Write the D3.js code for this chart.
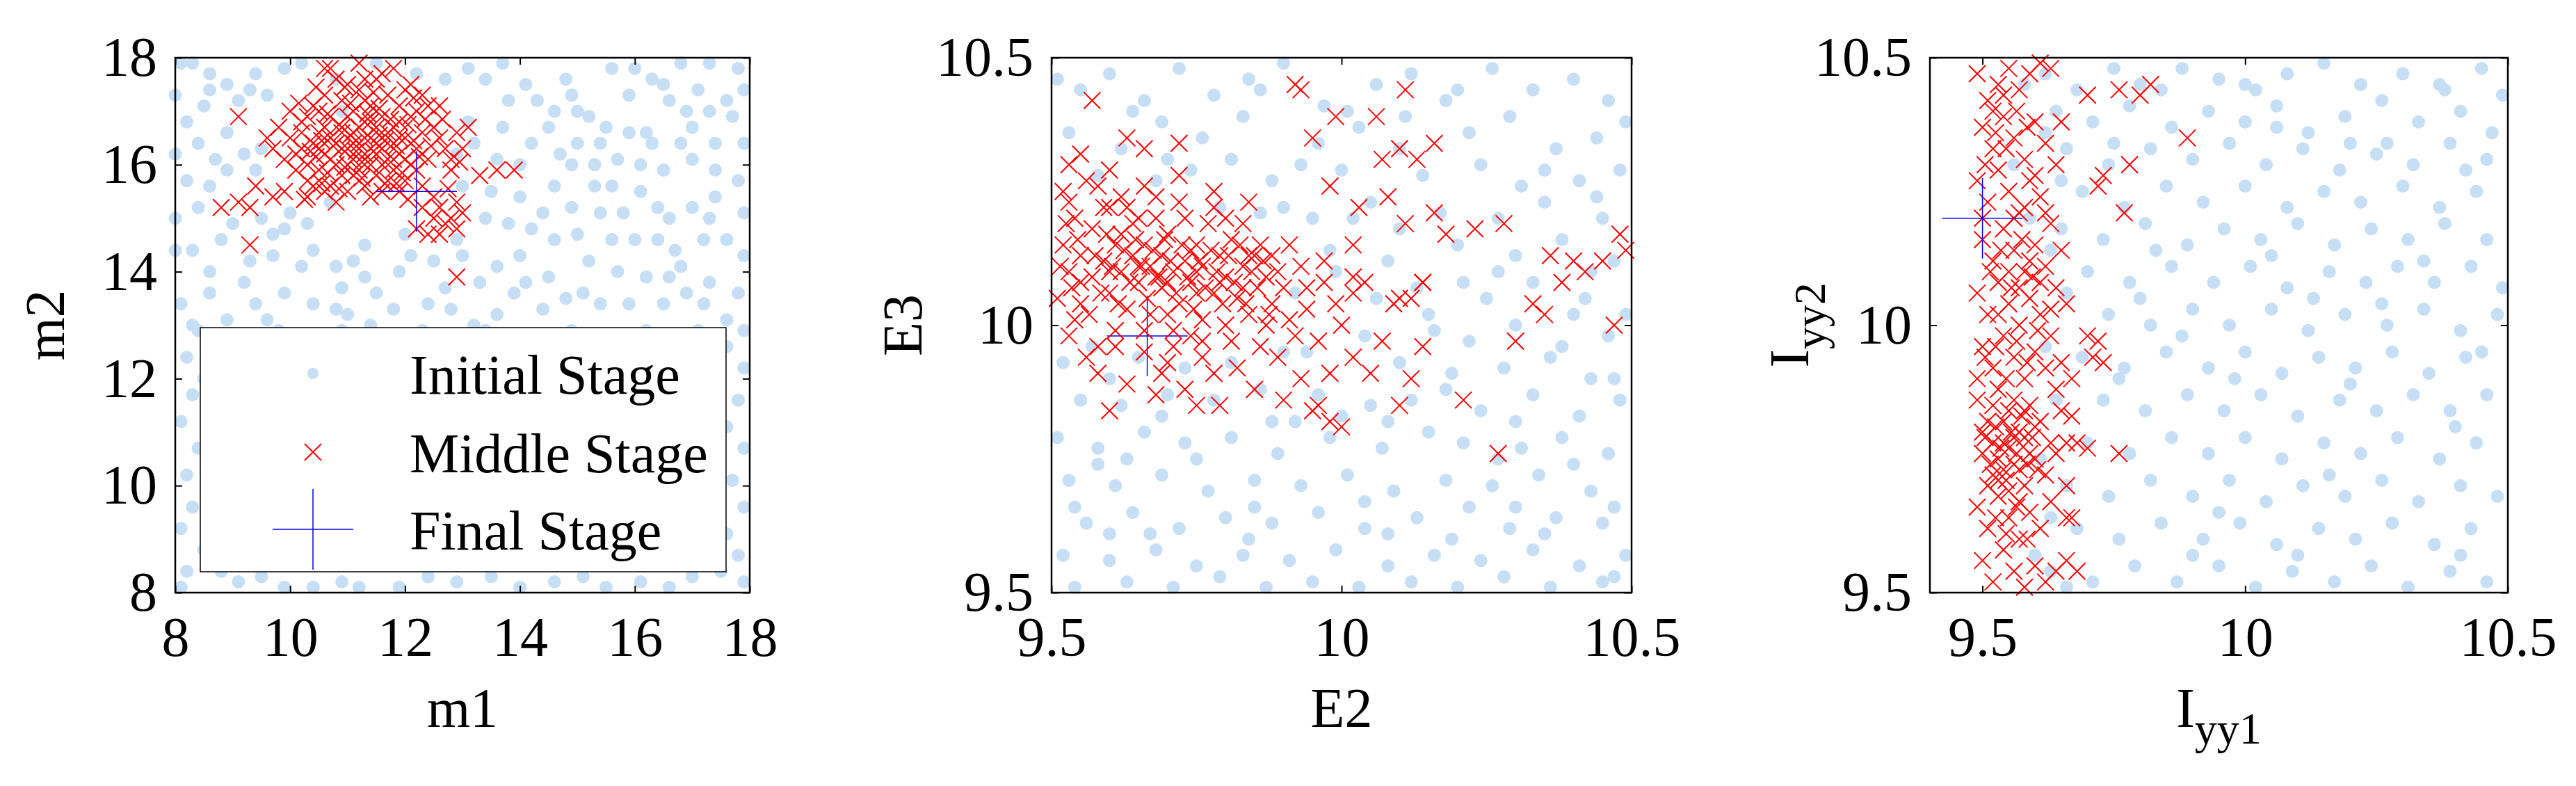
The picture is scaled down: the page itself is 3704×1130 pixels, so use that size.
<!DOCTYPE html>
<html><head><meta charset="utf-8">
<script src="https://cdn.jsdelivr.net/npm/d3@7"></script>
<style>body{margin:0;background:#fff} svg text{font-family:'Liberation Serif','Times New Roman',Tinos,'DejaVu Serif',serif !important;}</style>
</head><body><svg id="c" width="3704" height="1130"></svg>
<script>
const p1Init=[[8.1,17.9],[8.3,17.9],[8.6,17.7],[8.9,17.5],[9.3,17.4],[9.1,17.2],[8.5,17.1],[8.2,16.8],[9.6,17.3],[9.9,17.8],[10.2,17.9],[10.8,17.6],[11.5,17.9],[12.2,17.7],[12.7,17.6],[13.1,17.8],[13.4,17.6],[14.1,17.5],[14.3,17.2],[13.8,17.2],[14.6,17.0],[15.0,17.0],[15.2,16.9],[15.6,17.8],[16.0,17.8],[16.3,17.6],[16.8,17.9],[17.1,17.4],[17.3,17.9],[17.8,17.8],[17.9,17.4],[17.6,17.2],[17.3,17.0],[16.9,17.0],[16.6,17.2],[15.9,16.6],[16.2,16.6],[15.4,16.4],[15.0,16.4],[14.5,16.7],[14.2,16.4],[13.7,16.7],[13.6,16.1],[14.9,16.0],[15.3,16.0],[15.7,16.1],[16.1,16.0],[16.5,15.9],[17.0,16.1],[17.4,15.9],[17.8,15.7],[17.9,16.4],[17.7,16.9],[8.0,16.2],[8.4,16.4],[8.7,16.1],[8.9,16.6],[9.2,16.2],[9.5,16.3],[8.2,15.7],[8.6,15.6],[9.4,15.9],[8.3,14.4],[8.6,14.0],[8.8,14.6],[9.0,14.9],[9.5,15.0],[9.9,14.8],[10.3,14.9],[10.4,14.4],[10.8,14.1],[10.2,14.1],[9.7,14.3],[9.2,13.8],[8.6,13.6],[8.1,13.4],[8.9,13.1],[9.4,13.4],[9.9,13.6],[10.4,13.4],[10.8,13.3],[11.0,13.2],[11.4,13.0],[11.8,13.3],[12.4,13.4],[12.7,13.7],[11.9,14.0],[11.5,13.6],[12.1,14.3],[12.5,14.2],[13.0,14.3],[13.3,13.8],[13.6,14.1],[14.0,14.3],[14.1,13.8],[13.6,13.2],[13.2,13.0],[14.4,13.3],[14.8,13.5],[15.1,13.6],[15.4,13.4],[15.7,14.0],[16.2,13.9],[16.5,13.4],[16.9,13.6],[17.3,13.8],[17.8,13.6],[17.6,13.1],[17.2,13.4],[16.8,14.1],[16.4,14.6],[16.0,14.6],[15.6,14.6],[15.2,14.2],[14.6,14.6],[14.2,14.8],[13.8,14.9],[13.5,15.5],[14.0,15.4],[14.4,15.1],[14.9,15.2],[15.4,15.1],[15.8,15.1],[16.1,15.5],[16.6,15.0],[17.0,15.2],[17.4,15.4],[17.9,15.1],[17.6,14.6],[17.9,14.3],[17.2,14.6],[16.7,14.4],[15.6,15.6],[14.6,15.6],[13.4,15.0],[12.9,14.6],[10.7,15.3],[10.0,15.1],[8.4,15.2],[8.0,14.4],[8.4,12.9],[8.2,12.4],[8.5,12.0],[8.3,11.7],[8.1,11.2],[8.4,10.7],[8.2,10.2],[8.6,9.9],[8.3,9.6],[8.1,9.2],[8.5,8.8],[8.2,8.4],[8.1,8.1],[8.8,8.4],[9.1,8.2],[9.5,8.3],[9.9,8.1],[10.4,8.1],[10.9,8.2],[11.2,8.1],[11.9,8.1],[12.4,8.3],[12.9,8.2],[13.5,8.3],[14.0,8.1],[14.6,8.2],[15.1,8.3],[15.5,8.1],[16.1,8.2],[16.6,8.1],[17.0,8.3],[17.5,8.4],[17.9,8.2],[17.8,8.7],[17.6,9.1],[17.9,9.6],[17.7,10.1],[17.9,10.7],[17.6,11.1],[17.8,11.6],[17.9,12.2],[17.6,12.6],[17.9,12.9],[9.8,12.9],[10.9,12.9],[12.3,12.9],[13.4,12.9],[14.9,12.9],[16.2,12.9],[17.1,12.9],[8.0,17.3],[10.9,17.0],[13.1,16.8],[12.9,16.2],[14.8,17.6],[15.9,17.3],[9.3,14.2],[11.3,14.5],[12.0,14.7],[11.3,13.9],[10.9,13.7],[9.6,13.1],[8.3,13.0],[16.3,16.4],[17.0,16.7],[14.0,16.0],[15.0,14.7],[13.9,13.6],[17.4,16.4],[8.6,17.4],[9.4,17.7],[13.7,17.9],[14.9,17.3],[16.5,17.5],[15.5,16.7],[13.2,16.4],[14.7,16.2],[16.8,16.4],[8.9,15.9],[8.0,15.0],[9.7,14.7],[11.1,14.2],[12.8,13.3],[14.5,13.9],[15.9,13.4],[16.6,13.9],[13.0,15.6],[15.3,15.6],[17.3,15.0],[16.4,15.2]];
const p1Mid=[[10.0,16.5],[10.1,16.2],[10.2,16.8],[10.3,16.0],[10.3,15.7],[10.4,16.4],[10.4,17.1],[10.5,16.6],[10.5,15.9],[10.6,16.2],[10.6,17.3],[10.7,15.6],[10.7,16.9],[10.7,17.8],[10.8,16.4],[10.8,16.0],[10.8,15.3],[10.9,16.7],[10.9,17.2],[10.9,15.8],[11.0,16.3],[11.0,16.9],[11.0,15.5],[11.1,16.1],[11.1,17.0],[11.1,16.6],[11.2,15.9],[11.2,16.4],[11.2,17.4],[11.3,16.2],[11.3,16.8],[11.3,15.6],[11.4,16.5],[11.4,17.1],[11.4,16.0],[11.5,16.7],[11.5,15.8],[11.5,17.6],[11.6,16.3],[11.6,16.9],[11.6,15.5],[11.7,16.1],[11.7,17.3],[11.7,16.6],[11.8,16.4],[11.8,15.9],[11.8,17.8],[11.9,16.8],[11.9,16.2],[11.9,17.1],[12.0,16.5],[12.0,15.7],[12.0,17.4],[12.1,16.0],[12.1,16.9],[12.2,16.3],[12.2,17.0],[12.3,16.6],[12.3,15.6],[12.4,17.1],[12.4,16.1],[12.5,16.7],[12.6,17.1],[12.5,15.4],[12.7,16.3],[12.8,15.9],[12.9,16.6],[13.0,16.3],[13.1,16.7],[12.6,15.2],[12.7,14.9],[12.8,15.0],[12.9,14.8],[13.0,15.1],[12.6,14.7],[12.4,14.7],[12.2,14.8],[12.5,15.0],[12.9,15.3],[12.3,15.2],[10.1,15.9],[10.2,16.6],[10.3,16.9],[10.4,15.6],[10.5,17.0],[10.6,15.5],[10.7,16.5],[10.8,17.6],[10.9,16.3],[11.0,17.5],[11.1,15.8],[11.2,17.9],[11.3,17.2],[11.4,15.4],[11.5,16.2],[11.6,17.7],[11.7,15.7],[11.8,16.7],[11.9,15.5],[12.0,16.1],[12.1,17.5],[12.2,15.9],[11.0,16.0],[11.3,16.5],[11.6,16.0],[10.9,16.6],[11.2,16.7],[11.5,16.4],[11.8,16.1],[10.6,16.7],[10.7,16.1],[11.4,16.8],[11.1,16.4],[10.5,16.3],[11.9,16.5],[10.2,16.3],[10.3,15.4],[9.9,16.1],[9.8,16.7],[9.7,16.3],[9.6,16.5],[9.9,15.5],[9.7,15.4],[9.4,15.6],[9.1,15.3],[8.8,15.2],[9.3,15.2],[9.1,16.9],[9.3,14.5],[13.3,15.8],[13.6,15.9],[13.9,15.9],[12.9,13.9],[10.0,17.0],[10.6,17.8],[11.3,17.6],[12.3,17.3],[12.6,16.5],[12.8,16.1],[10.45,16.15],[10.55,16.45],[10.65,15.85],[10.75,16.35],[10.85,16.75],[10.95,15.95],[11.05,16.55],[11.15,16.25],[11.25,15.75],[11.35,16.95],[11.45,16.25],[11.55,16.55],[11.65,15.65],[11.75,16.85],[11.85,16.35],[11.95,15.85],[12.05,16.75],[12.15,16.45],[12.25,16.15],[12.35,16.85],[10.35,16.25],[10.65,16.95],[10.85,15.55],[11.05,17.15],[11.25,16.05],[11.45,17.35],[11.65,16.45],[11.85,15.65],[12.05,15.35],[12.45,16.35],[10.15,17.15],[10.45,17.45],[10.95,17.45],[11.55,17.05],[12.15,17.25],[12.65,16.85],[12.95,16.05],[12.75,15.55],[10.25,15.35],[10.55,15.65]];
const p2Init=[[9.51,10.46],[9.55,10.44],[9.60,10.47],[9.66,10.42],[9.72,10.48],[9.78,10.43],[9.84,10.46],[9.90,10.49],[9.97,10.41],[10.06,10.45],[10.12,10.47],[10.18,10.42],[10.26,10.48],[10.33,10.44],[10.40,10.46],[10.46,10.42],[10.49,10.38],[9.53,10.36],[9.62,10.33],[9.69,10.38],[9.76,10.35],[9.83,10.39],[9.96,10.34],[10.03,10.37],[10.10,10.33],[10.22,10.36],[10.29,10.39],[10.37,10.33],[10.44,10.35],[9.58,10.28],[9.74,10.29],[9.88,10.27],[9.93,10.30],[10.00,10.29],[10.14,10.28],[10.24,10.30],[10.31,10.26],[10.41,10.27],[10.48,10.29],[9.90,10.22],[9.95,10.20],[10.05,10.23],[10.17,10.21],[10.27,10.20],[10.35,10.23],[10.45,10.20],[9.98,10.14],[10.08,10.12],[10.20,10.15],[10.30,10.13],[10.38,10.16],[10.47,10.12],[9.92,10.06],[10.06,10.05],[10.13,10.07],[10.25,10.05],[10.33,10.08],[10.42,10.05],[10.49,10.02],[10.04,9.98],[10.16,9.99],[10.22,9.97],[10.30,10.00],[10.38,9.96],[10.46,9.98],[9.52,9.93],[9.60,9.90],[10.10,9.93],[10.19,9.91],[10.28,9.92],[10.36,9.94],[10.43,9.90],[9.55,9.86],[9.62,9.85],[9.70,9.87],[9.78,9.86],[9.86,9.88],[9.96,9.87],[10.05,9.85],[10.12,9.86],[10.24,9.84],[10.33,9.87],[10.41,9.83],[10.48,9.86],[9.51,9.79],[9.58,9.77],[9.66,9.80],[9.73,9.78],[9.81,9.79],[9.89,9.76],[9.98,9.79],[10.07,9.77],[10.15,9.80],[10.21,9.78],[10.31,9.77],[10.38,9.79],[10.46,9.76],[9.53,9.71],[9.61,9.70],[9.69,9.72],[9.77,9.69],[9.85,9.71],[9.93,9.70],[10.01,9.72],[10.09,9.69],[10.18,9.71],[10.26,9.70],[10.34,9.72],[10.43,9.69],[9.56,9.63],[9.64,9.65],[9.72,9.62],[9.80,9.64],[9.88,9.63],[9.96,9.65],[10.04,9.62],[10.13,9.64],[10.22,9.66],[10.29,9.62],[10.37,9.64],[10.45,9.63],[9.52,9.57],[9.60,9.56],[9.68,9.58],[9.75,9.55],[9.83,9.57],[9.91,9.56],[9.99,9.58],[10.08,9.55],[10.16,9.57],[10.24,9.56],[10.33,9.58],[10.41,9.55],[10.49,9.57],[9.54,9.51],[9.63,9.52],[9.71,9.51],[9.79,9.53],[9.87,9.51],[9.95,9.52],[10.03,9.51],[10.12,9.52],[10.20,9.51],[10.28,9.53],[10.36,9.51],[10.45,9.52],[9.57,9.96],[9.65,9.94],[9.73,9.92],[9.94,9.95],[9.99,10.10],[10.10,10.18],[10.01,10.40],[9.70,10.31],[9.64,10.40],[9.81,10.31],[9.86,10.21],[10.43,10.10],[10.27,10.10],[10.15,10.02],[9.90,9.95],[9.81,9.93],[9.69,9.83],[9.58,9.74],[9.92,9.82],[10.18,9.88],[10.27,9.75],[10.40,9.74],[10.04,9.67],[9.84,9.60],[9.67,9.61],[10.19,9.60],[10.35,9.61],[9.75,9.75],[10.00,9.83],[9.54,9.66],[10.47,9.66],[10.47,9.90],[10.11,10.39],[9.79,10.22],[9.68,10.27],[9.86,10.44],[10.20,10.44],[10.35,10.29],[10.44,10.24],[10.02,10.20],[10.21,10.08],[10.40,10.02],[9.88,9.82],[10.08,9.82],[10.30,9.82],[9.63,9.75],[9.85,9.66],[10.08,9.61],[10.30,9.66],[9.60,9.61],[10.47,9.53]];
const p2Mid=[[9.51,10.05],[9.52,10.15],[9.52,10.25],[9.53,10.10],[9.53,9.98],[9.54,10.20],[9.55,10.13],[9.55,10.04],[9.56,10.27],[9.57,10.09],[9.57,10.18],[9.58,9.96],[9.59,10.12],[9.59,10.22],[9.60,10.06],[9.61,10.15],[9.61,9.99],[9.62,10.10],[9.62,10.24],[9.63,10.03],[9.64,10.13],[9.64,10.19],[9.65,10.08],[9.66,9.95],[9.66,10.15],[9.67,10.11],[9.67,10.02],[9.68,10.20],[9.69,10.07],[9.69,10.13],[9.70,9.93],[9.70,10.17],[9.71,10.10],[9.72,10.04],[9.72,10.23],[9.73,10.12],[9.74,9.98],[9.74,10.08],[9.75,10.15],[9.76,10.01],[9.76,10.11],[9.77,10.19],[9.78,10.06],[9.78,9.91],[9.79,10.13],[9.80,10.09],[9.80,10.00],[9.81,10.16],[9.82,9.92],[9.82,10.05],[9.83,10.11],[9.84,10.02],[9.85,10.13],[9.86,9.96],[9.87,10.09],[9.88,10.04],[9.89,9.94],[9.90,10.07],[9.91,10.01],[9.92,9.98],[9.93,10.11],[9.94,10.03],[9.96,9.97],[9.97,10.08],[9.98,9.91],[9.99,10.04],[10.00,10.00],[10.02,10.09],[10.02,9.94],[9.55,10.32],[9.60,10.29],[9.66,10.26],[9.72,10.28],[9.78,10.25],[9.84,10.23],[9.58,9.91],[9.63,9.89],[9.68,9.87],[9.73,9.88],[9.79,9.85],[9.85,9.88],[9.90,9.86],[9.95,9.84],[9.57,10.42],[9.60,10.22],[9.70,10.02],[9.65,10.20],[9.75,10.06],[9.80,10.20],[9.71,9.96],[9.76,9.94],[9.53,10.30],[9.54,10.01],[9.62,10.17],[9.68,10.09],[9.74,10.14],[9.83,10.07],[9.86,10.15],[9.89,10.10],[9.63,10.35],[9.66,10.33],[9.72,10.34],[9.93,10.44],[9.92,10.45],[9.95,10.35],[9.99,10.39],[10.06,10.39],[10.11,10.44],[10.10,10.33],[10.07,10.31],[10.13,10.31],[10.16,10.34],[10.08,10.24],[10.11,10.19],[10.16,10.21],[10.18,10.17],[10.02,10.15],[10.03,10.22],[9.98,10.26],[10.10,10.05],[10.12,10.05],[10.14,10.08],[10.02,10.06],[10.04,10.08],[10.09,10.04],[10.14,9.96],[10.10,9.85],[10.21,9.86],[10.07,9.97],[9.98,9.82],[10.00,9.81],[10.28,10.19],[10.35,10.02],[10.38,10.08],[10.42,10.10],[10.45,10.12],[10.48,10.17],[10.49,10.14],[10.33,10.04],[10.36,10.13],[10.40,10.12],[10.47,10.00],[10.30,9.97],[10.27,9.76],[10.14,10.08],[10.23,10.18],[10.05,9.91],[10.12,9.90],[9.93,9.90],[9.96,9.85],[9.75,9.85],[9.60,9.84],[9.69,9.91],[9.515,10.11],[9.525,10.19],[9.535,10.07],[9.545,10.16],[9.565,10.02],[9.575,10.13],[9.585,10.06],[9.595,10.17],[9.605,10.11],[9.615,10.04],[9.625,10.14],[9.635,10.08],[9.645,10.16],[9.655,10.11],[9.665,10.05],[9.675,10.14],[9.685,10.09],[9.695,10.16],[9.705,10.12],[9.715,10.06],[9.725,10.15],[9.735,10.09],[9.745,10.03],[9.755,10.12],[9.765,10.07],[9.775,10.14],[9.785,10.10],[9.795,10.04],[9.805,10.13],[9.815,10.08],[9.825,10.15],[9.835,10.04],[9.845,10.10],[9.855,10.07],[9.865,10.12],[9.875,10.02],[9.53,10.23],[9.58,10.26],[9.63,10.22],[9.68,10.24],[9.73,10.20],[9.78,10.22],[9.83,10.19],[9.56,9.94],[9.61,9.96],[9.66,9.99],[9.71,9.99],[9.76,9.97],[9.81,9.97],[9.87,10.00],[9.65,10.11],[9.70,10.08],[9.75,10.10],[9.60,10.10],[9.55,10.08],[9.79,10.08],[9.84,10.13],[9.88,10.13],[9.91,10.15],[9.94,10.07],[9.97,10.12]];
const p3Init=[[9.62,10.47],[9.68,10.44],[9.75,10.48],[9.80,10.45],[9.88,10.48],[9.95,10.46],[10.02,10.44],[10.08,10.47],[10.15,10.49],[10.22,10.45],[10.30,10.47],[10.38,10.44],[10.45,10.48],[10.49,10.43],[9.64,10.40],[9.71,10.38],[9.78,10.41],[9.86,10.37],[9.93,10.40],[10.00,10.38],[10.06,10.41],[10.12,10.36],[10.19,10.39],[10.26,10.42],[10.33,10.38],[10.41,10.40],[10.47,10.36],[9.66,10.33],[9.74,10.30],[9.82,10.33],[9.90,10.31],[9.97,10.34],[10.04,10.30],[10.11,10.33],[10.18,10.29],[10.25,10.32],[10.32,10.30],[10.39,10.34],[10.46,10.31],[9.69,10.25],[9.77,10.22],[9.85,10.26],[9.92,10.23],[10.00,10.26],[10.08,10.22],[10.15,10.25],[10.22,10.23],[10.30,10.26],[10.37,10.22],[10.44,10.25],[9.65,10.18],[9.73,10.16],[9.81,10.19],[9.89,10.15],[9.96,10.18],[10.03,10.16],[10.10,10.19],[10.17,10.15],[10.24,10.18],[10.31,10.16],[10.38,10.19],[10.46,10.16],[9.70,10.10],[9.78,10.08],[9.86,10.11],[9.94,10.08],[10.01,10.11],[10.08,10.07],[10.16,10.10],[10.23,10.08],[10.29,10.11],[10.36,10.08],[10.43,10.11],[10.49,10.07],[9.74,10.02],[9.82,10.00],[9.90,10.03],[9.97,10.00],[10.05,10.03],[10.12,9.99],[10.19,10.02],[10.27,10.00],[10.34,10.03],[10.41,9.99],[10.48,10.02],[9.69,9.94],[9.77,9.92],[9.85,9.95],[9.93,9.92],[10.00,9.95],[10.07,9.91],[10.14,9.94],[10.21,9.92],[10.28,9.95],[10.35,9.91],[10.42,9.94],[9.73,9.86],[9.81,9.84],[9.89,9.87],[9.96,9.84],[10.03,9.87],[10.10,9.83],[10.18,9.86],[10.25,9.84],[10.32,9.87],[10.39,9.84],[10.46,9.87],[9.70,9.78],[9.78,9.76],[9.86,9.79],[9.93,9.76],[10.00,9.79],[10.07,9.75],[10.15,9.78],[10.22,9.76],[10.29,9.79],[10.37,9.75],[10.44,9.78],[9.66,9.70],[9.74,9.68],[9.82,9.71],[9.90,9.68],[9.97,9.71],[10.04,9.67],[10.11,9.70],[10.19,9.68],[10.26,9.71],[10.33,9.67],[10.41,9.70],[10.48,9.68],[9.68,9.62],[9.76,9.60],[9.84,9.63],[9.92,9.60],[9.99,9.63],[10.06,9.59],[10.14,9.62],[10.21,9.60],[10.28,9.63],[10.36,9.59],[10.43,9.62],[9.63,9.54],[9.71,9.52],[9.79,9.55],[9.87,9.52],[9.95,9.55],[10.02,9.51],[10.09,9.54],[10.17,9.52],[10.24,9.55],[10.31,9.51],[10.39,9.54],[10.46,9.52],[9.66,9.51],[9.60,9.57],[9.63,9.64],[9.61,9.75],[9.64,9.86],[9.62,9.96],[9.66,10.06],[9.63,10.14],[9.65,10.27],[9.62,10.36],[9.58,10.45],[9.56,10.30],[9.59,10.20],[9.88,9.98],[10.13,10.05],[10.37,10.45],[10.20,9.89],[9.95,9.65],[10.45,9.95],[10.06,10.37],[9.84,10.44],[10.27,10.34],[10.40,9.81],[9.76,9.90],[10.10,9.57],[9.80,10.05],[10.34,10.12],[10.00,10.45],[9.83,10.14],[10.05,10.13],[10.26,10.04],[9.98,9.90],[10.16,9.72],[9.90,9.57],[10.41,9.57],[9.75,10.34],[10.20,10.34],[10.42,10.29]];
const p3Mid=[[9.49,10.47],[9.51,10.42],[9.53,10.45],[9.55,10.48],[9.57,10.44],[9.59,10.47],[9.61,10.49],[9.63,10.48],[9.50,10.37],[9.52,10.33],[9.54,10.39],[9.56,10.35],[9.58,10.31],[9.60,10.38],[9.62,10.34],[9.64,10.30],[9.49,10.27],[9.51,10.23],[9.53,10.29],[9.55,10.25],[9.57,10.21],[9.59,10.27],[9.61,10.24],[9.63,10.19],[9.50,10.16],[9.52,10.12],[9.54,10.18],[9.56,10.14],[9.58,10.10],[9.60,10.15],[9.62,10.11],[9.64,10.07],[9.49,10.06],[9.51,10.02],[9.53,10.08],[9.55,10.04],[9.57,10.00],[9.59,10.05],[9.61,10.02],[9.63,9.98],[9.50,9.96],[9.52,9.92],[9.54,9.98],[9.56,9.94],[9.58,9.90],[9.60,9.95],[9.62,9.92],[9.64,9.88],[9.49,9.86],[9.51,9.82],[9.53,9.88],[9.55,9.84],[9.57,9.80],[9.59,9.85],[9.61,9.82],[9.63,9.78],[9.65,9.84],[9.50,9.76],[9.52,9.72],[9.54,9.78],[9.56,9.74],[9.58,9.70],[9.60,9.75],[9.62,9.72],[9.64,9.76],[9.66,9.78],[9.49,9.66],[9.51,9.62],[9.53,9.68],[9.55,9.64],[9.57,9.60],[9.59,9.65],[9.61,9.62],[9.63,9.67],[9.50,9.56],[9.52,9.52],[9.54,9.58],[9.56,9.54],[9.58,9.51],[9.60,9.55],[9.62,9.52],[9.49,9.90],[9.50,9.80],[9.52,9.78],[9.53,9.75],[9.54,9.82],[9.55,9.77],[9.56,9.86],[9.57,9.73],[9.58,9.79],[9.59,9.76],[9.60,9.81],[9.51,9.70],[9.53,9.71],[9.55,9.69],[9.57,9.67],[9.52,9.85],[9.54,9.73],[9.56,9.79],[9.58,9.84],[9.55,10.10],[9.53,10.02],[9.57,10.07],[9.59,10.12],[9.61,10.08],[9.50,10.20],[9.52,10.40],[9.54,10.43],[9.56,10.20],[9.58,10.22],[9.60,10.28],[9.62,10.21],[9.63,10.03],[9.65,9.93],[9.66,9.70],[9.67,9.64],[9.66,9.56],[9.68,9.54],[9.64,9.54],[9.66,9.64],[9.68,9.78],[9.70,9.77],[9.71,9.94],[9.73,9.93],[9.70,9.98],[9.72,9.97],[9.76,9.76],[9.72,10.26],[9.73,10.28],[9.77,10.21],[9.76,10.44],[9.80,10.43],[9.82,10.45],[9.89,10.35],[9.70,10.43],[9.78,10.30],[9.65,10.14],[9.65,10.38],[9.66,10.04],[9.67,9.90],[9.67,9.83],[9.505,9.79],[9.515,9.74],[9.525,9.81],[9.535,9.77],[9.545,9.71],[9.555,9.80],[9.565,9.76],[9.575,9.83],[9.585,9.74],[9.595,9.79],[9.605,9.73],[9.525,9.64],[9.545,9.61],[9.565,9.66],[9.585,9.60],[9.505,9.94],[9.525,9.96],[9.545,9.90],[9.565,9.97],[9.585,9.93],[9.605,9.99],[9.515,10.10],[9.535,10.14],[9.555,10.07],[9.575,10.16],[9.595,10.09],[9.505,10.30],[9.525,10.36],[9.545,10.33],[9.565,10.40],[9.585,10.37]];
const finals=[[12.2,15.5],[9.665,9.98],[9.5,10.2]];
const xTicks=[[8,10,12,14,16,18],[9.5,10,10.5],[9.5,10,10.5]];
const yTicks=[[8,10,12,14,16,18],[9.5,10,10.5],[9.5,10,10.5]];
const legendLabels=["Initial Stage","Middle Stage","Final Stage"];

const svg=d3.select("#c");
const panels=[
 {l:252,r:1078,xd:[8,18],yd:[8,18],init:p1Init,mid:p1Mid,xl:["m1"],yl:["m2"],ylx:92},
 {l:1512,r:2346,xd:[9.5,10.5],yd:[9.5,10.5],init:p2Init,mid:p2Mid,xl:["E2"],yl:["E3"],ylx:1325},
 {l:2775,r:3606,xd:[9.4,10.5],yd:[9.5,10.5],init:p3Init,mid:p3Mid,xl:["I","yy1"],yl:["I","yy2"],ylx:2600}
];
const T=83,B=852,FS=80,blue="#c6dff5";
function xmark(g,x,y,s){g.append("path").attr("d",`M${x-s},${y-s}L${x+s},${y+s}M${x-s},${y+s}L${x+s},${y-s}`).attr("stroke","#ff0000").attr("stroke-width",2).attr("fill","none");}
function plus(g,x,y,s){g.append("path").attr("d",`M${x-s},${y}L${x+s},${y}M${x},${y-s}L${x},${y+s}`).attr("stroke","#0000ff").attr("stroke-width",1.5).attr("fill","none");}
function label(t,parts){t.text(parts[0]);if(parts[1])t.append("tspan").attr("font-size",FS*0.8).attr("dy",FS*0.3).text(parts[1]);}
panels.forEach((p,i)=>{
 const x=d3.scaleLinear().domain(p.xd).range([p.l,p.r]);
 const y=d3.scaleLinear().domain(p.yd).range([B,T]);
 const g=svg.append("g");
 g.selectAll("circle").data(p.init).join("circle").attr("cx",d=>x(d[0])).attr("cy",d=>y(d[1])).attr("r",9.5).attr("fill",blue);
 if(i===1) plus(g,x(finals[i][0]),y(finals[i][1]),58);
 p.mid.forEach(d=>xmark(g,x(d[0]),y(d[1]),12));
 if(i!==1) plus(g,x(finals[i][0]),y(finals[i][1]),58);
 const mk=(ax,tr)=>{const a=svg.append("g").attr("transform",tr).call(ax);a.attr("font-family",null);a.select(".domain").remove();a.selectAll("line").attr("stroke","#000").attr("stroke-width",2);return a;};
 const bx=mk(d3.axisBottom(x).tickValues(xTicks[i]).tickSize(-10).tickPadding(34).tickFormat(d3.format("")),`translate(0,${B})`);
 bx.selectAll("text").attr("font-size",FS);
 mk(d3.axisTop(x).tickValues(xTicks[i]).tickSize(-10).tickFormat(""),`translate(0,${T})`);
 const ly=mk(d3.axisLeft(y).tickValues(yTicks[i]).tickSize(-10).tickPadding(26).tickFormat(d3.format("")),`translate(${p.l},0)`);
 ly.selectAll("text").attr("font-size",FS);
 mk(d3.axisRight(y).tickValues(yTicks[i]).tickSize(-10).tickFormat(""),`translate(${p.r},0)`);
 svg.append("rect").attr("x",p.l).attr("y",T).attr("width",p.r-p.l).attr("height",B-T).attr("fill","none").attr("stroke","#000").attr("stroke-width",2.5);
 label(svg.append("text").attr("x",(p.l+p.r)/2).attr("y",1045).attr("text-anchor","middle").attr("font-size",FS),p.xl);
 label(svg.append("text").attr("transform",`translate(${p.ylx},${(T+B)/2}) rotate(-90)`).attr("text-anchor","middle").attr("font-size",FS),p.yl);
 if(i===0){
  const lg=svg.append("g");
  lg.append("rect").attr("x",288).attr("y",471).attr("width",756).attr("height",351).attr("fill","#fff").attr("stroke","#000").attr("stroke-width",1.5);
  const rows=[537,650,761];
  lg.append("circle").attr("cx",450).attr("cy",rows[0]).attr("r",8).attr("fill",blue);
  xmark(lg,450,rows[1],12);
  plus(lg,450,rows[2],58);
  legendLabels.forEach((t,k)=>lg.append("text").attr("x",589).attr("y",rows[k]).attr("dy","0.36em").attr("font-size",FS).text(t));
 }
});
</script></body></html>
